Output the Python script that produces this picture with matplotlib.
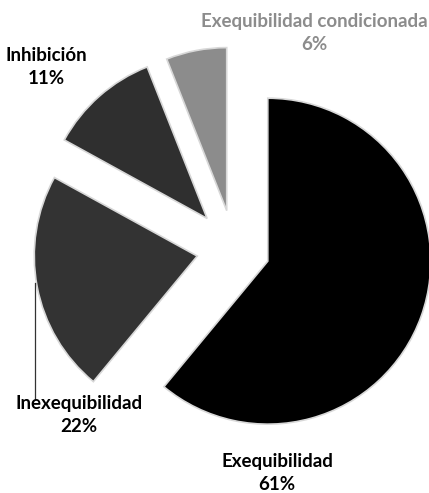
import matplotlib.pyplot as plt

# datos del gráfico
categorias = ['Exequibilidad', 'Inexequibilidad', 'Inhibición', 'Exequibilidad condicionada']
porcentajes = [61, 22, 11, 6]
colores = ['#000000', '#333333', '#2f2f2f', '#8c8c8c']
separacion = [0.22, 0.23, 0.25, 0.24]

# posiciones de las etiquetas (en unidades del radio)
pos_etiquetas = [(0.264, -1.374), (-0.951, -1.018), (-1.153, 1.117), (0.49, 1.325)]
color_texto = ['#000000', '#000000', '#000000', '#8c8c8c']

plt.rcParams['font.family'] = ['Lato', 'DejaVu Sans']

fig = plt.figure(figsize=(4.29, 4.93), dpi=100)
ax = fig.add_axes([0, 0, 1, 1])

wedges, _ = ax.pie(porcentajes, colors=colores, explode=separacion,
                   startangle=90, counterclock=False, radius=1,
                   wedgeprops=dict(linewidth=1.2, edgecolor='#d8d8d8'))

for cat, val, (x, y), c in zip(categorias, porcentajes, pos_etiquetas, color_texto):
    ax.text(x, y, f'{cat}\n{val}%', ha='center', va='center', fontsize=13.5,
            fontweight='bold', color=c, linespacing=1.45)

# línea guía de Inexequibilidad
ax.plot([-1.219, -1.219], [-0.21, -0.92], color='#333333', linewidth=0.9)

ax.set_xlim(-1.436, 1.196)
ax.set_ylim(-1.497, 1.528)
ax.set_aspect('equal')
ax.axis('off')

plt.savefig('out.png', dpi=100)
